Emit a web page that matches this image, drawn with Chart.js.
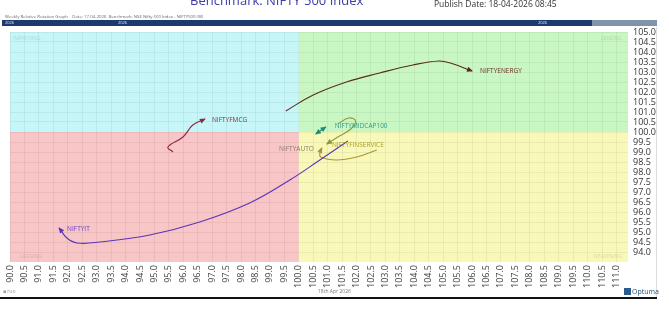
<!DOCTYPE html>
<html>
<head>
<meta charset="utf-8">
<script src="https://cdn.jsdelivr.net/npm/chart.js@4.4.1/dist/chart.umd.min.js"></script>
<style>
  html, body { margin: 0; padding: 0; background: #fff; }
  #wrap { position: relative; width: 669px; height: 311px; overflow: hidden; font-family: "Open Sans", sans-serif; }
  #wrap canvas { position: absolute; left: 0; top: 0; }
  .txt { position: absolute; white-space: nowrap; }
  #title { left: 190px; top: -9px; font-size: 13px; color: #3c3ca8; }
  #pub { left: 434px; top: -2px; font-size: 8.5px; color: #333; }
  #sub { left: 5px; top: 13px; font-size: 4.3px; color: #666; }
  #bar { position: absolute; left: 2px; top: 20px; width: 590px; height: 6px; background: #1d3a6e; }
  #bar2 { position: absolute; left: 592px; top: 20px; width: 65px; height: 6px; background: #7f93ad; }
  .yr { position: absolute; top: 19.5px; font-size: 4px; color: #dfe6f2; }
  #foot { position: absolute; left: 0; top: 297px; width: 657px; height: 2px; background: #111; }
  #date { left: 318px; top: 288px; font-size: 5px; color: #777; }
  #lft { left: 3px; top: 288px; font-size: 5px; color: #999; }
  #opt { left: 624px; top: 287px; font-size: 7px; color: #25507e; }
  #opt b { display: inline-block; width: 7px; height: 7px; background: #2a5b8f; margin-right: 1px; vertical-align: -1px; }
  #edge { position: absolute; left: 656px; top: 27px; width: 1px; height: 270px; background: #ddd; }
</style>
</head>
<body>
<div id="wrap">
  <canvas id="c" width="669" height="311"></canvas>
  <div class="txt" id="title">Benchmark: NIFTY 500 Index</div>
  <div class="txt" id="pub">Publish Date: 18-04-2026 08:45</div>
  <div class="txt" id="sub">Weekly Relative Rotation Graph &nbsp;&nbsp; Date: 17-04-2026 &nbsp;Benchmark: NSE Nifty 500 Index - NIFTY500 (W)</div>
  <div id="bar"></div><div id="bar2"></div>
  <div class="yr" style="left:5px">2026</div>
  <div class="yr" style="left:118px">2026</div>
  <div class="yr" style="left:538px">2026</div>
  <div id="edge"></div>
  <div id="foot"></div>
  <div class="txt" id="lft">&#9632; ruo</div>
  <div class="txt" id="date">18th Apr 2026</div>
  <div class="txt" id="opt"><b></b>Optuma</div>
</div>
<script>
// tick labels
const xTicks = [];
for (let v = 900; v <= 1110; v += 5) xTicks.push(v / 10);
const yTicks = [];
for (let v = 940; v <= 1050; v += 5) yTicks.push(v / 10);

// tails (oldest point first, arrow at last point)
const energyX = [99.55, 100.5, 101.65, 102.8, 103.95, 104.85, 105.25, 106.0];
const energyY = [101.05, 101.85, 102.5, 102.95, 103.35, 103.55, 103.45, 103.05];
const fmcgX = [95.64, 95.47, 95.99, 96.33, 96.75];
const fmcgY = [99.0, 99.25, 99.75, 100.35, 100.65];
const itX = [101.7, 100.73, 99.69, 98.3, 96.57, 94.84, 93.11, 92.32, 91.97, 91.7];
const itY = [99.55, 98.6, 97.6, 96.45, 95.5, 94.85, 94.5, 94.45, 94.7, 95.2];
const midcapX = [100.59, 100.93];
const midcapY = [99.9, 100.25];
const finX = [102.7, 102.01, 101.31, 100.76, 100.73, 100.8];
const finY = [99.1, 98.75, 98.6, 98.75, 99.0, 99.2];
const autoX = [101.35, 101.73, 101.97, 101.8, 101.35, 100.97];
const autoY = [100.4, 100.7, 100.55, 100.15, 99.75, 99.4];

const pts = (xs, ys) => xs.map((x, i) => ({ x: x, y: ys[i] }));

const series = [
  { name: 'NIFTYENERGY', data: pts(energyX, energyY), color: '#5b2a1e', text: '#6b2a22', dx: 8, dy: 0, align: 'left' },
  { name: 'NIFTYFMCG', data: pts(fmcgX, fmcgY), color: '#8c2a45', text: '#8c2a45', dx: 7, dy: 1, align: 'left' },
  { name: 'NIFTYIT', data: pts(itX, itY), color: '#5b34b8', text: '#6a3fc4', dx: 8, dy: 1, align: 'left' },
  { name: 'NIFTYMIDCAP100', data: pts(midcapX, midcapY), color: '#1f8a78', text: '#2a9a86', dx: 9, dy: -1, align: 'left', both: true },
  { name: 'NIFTYFINSERVICE', data: pts(finX, finY), color: '#a8973c', text: '#a8a028', dx: 10, dy: -3, align: 'left' },
  { name: 'NIFTYAUTO', data: pts(autoX, autoY), color: '#8e9a3a', text: '#8a7a6e', dx: -13, dy: 5, align: 'right' }
];

const quadrants = {
  id: 'quadrants',
  beforeDraw(chart) {
    const { ctx, chartArea: a, scales: { x, y } } = chart;
    const cx = x.getPixelForValue(100), cy = y.getPixelForValue(100);
    ctx.save();
    ctx.fillStyle = '#c6f6f8'; ctx.fillRect(a.left, a.top, cx - a.left, cy - a.top);
    ctx.fillStyle = '#c9f7c4'; ctx.fillRect(cx, a.top, a.right - cx, cy - a.top);
    ctx.fillStyle = '#f8c6c6'; ctx.fillRect(a.left, cy, cx - a.left, a.bottom - cy);
    ctx.fillStyle = '#f8f8b8'; ctx.fillRect(cx, cy, a.right - cx, a.bottom - cy);
    ctx.fillStyle = 'rgba(0,0,0,0.13)';
    ctx.font = '5px "Open Sans"';
    ctx.textBaseline = 'top';
    ctx.textAlign = 'left';
    ctx.fillText('IMPROVING', a.left + 3, a.top + 4);
    ctx.fillText('LAGGING', a.left + 10, a.bottom - 8);
    ctx.textAlign = 'right';
    ctx.fillText('LEADING', a.right - 6, a.top + 4);
    ctx.fillText('WEAKENING', a.right - 6, a.bottom - 8);
    ctx.restore();
  }
};

function head(ctx, p, q, color) {
  const ang = Math.atan2(p.y - q.y, p.x - q.x);
  ctx.save();
  ctx.translate(p.x, p.y);
  ctx.rotate(ang);
  ctx.fillStyle = color;
  ctx.beginPath();
  ctx.moveTo(1, 0);
  ctx.lineTo(-5, -2.6);
  ctx.lineTo(-5, 2.6);
  ctx.closePath();
  ctx.fill();
  ctx.restore();
}

const arrows = {
  id: 'arrows',
  afterDatasetsDraw(chart) {
    const { ctx, scales: { x, y } } = chart;
    series.forEach(s => {
      const px = s.data.map(d => ({ x: x.getPixelForValue(d.x), y: y.getPixelForValue(d.y) }));
      const n = px.length;
      head(ctx, px[n - 1], px[n - 2], s.color);
      if (s.both) head(ctx, px[0], px[1], s.color);
      ctx.save();
      ctx.fillStyle = s.text;
      ctx.font = '6.5px "Open Sans"';
      ctx.textAlign = s.align;
      ctx.textBaseline = 'middle';
      ctx.fillText(s.name, px[n - 1].x + s.dx, px[n - 1].y + s.dy);
      ctx.restore();
    });
  }
};

new Chart(document.getElementById('c'), {
  type: 'scatter',
  data: {
    datasets: series.map(s => ({
      label: s.name,
      data: s.data,
      showLine: true,
      tension: 0.4,
      borderColor: s.color,
      borderWidth: 1.1,
      pointRadius: 0
    }))
  },
  options: {
    responsive: false,
    animation: false,
    layout: { padding: { top: 32, left: 10, right: 0, bottom: 0 } },
    plugins: { legend: { display: false }, tooltip: { enabled: false } },
    scales: {
      x: {
        type: 'linear',
        min: 90, max: 111.4,
        afterBuildTicks: s => { s.ticks = xTicks.map(v => ({ value: v })); },
        afterFit: s => { s.height = 49; },
        grid: { color: 'rgba(0,0,0,0.05)', drawTicks: false },
        border: { display: false },
        ticks: {
          autoSkip: false, minRotation: 90, maxRotation: 90, padding: 3,
          color: '#444', font: { family: 'Open Sans', size: 9 },
          callback: v => Number(v).toFixed(1)
        }
      },
      y: {
        type: 'linear',
        position: 'right',
        min: 93.5, max: 105,
        afterBuildTicks: s => { s.ticks = yTicks.map(v => ({ value: v })); },
        afterFit: s => { s.width = 41; },
        grid: { color: 'rgba(0,0,0,0.05)', drawTicks: false },
        border: { display: false },
        ticks: {
          autoSkip: false, padding: 5,
          color: '#333', font: { family: 'Open Sans', size: 9 },
          callback: v => Number(v).toFixed(1)
        }
      }
    }
  },
  plugins: [quadrants, arrows]
});
</script>
</body>
</html>
